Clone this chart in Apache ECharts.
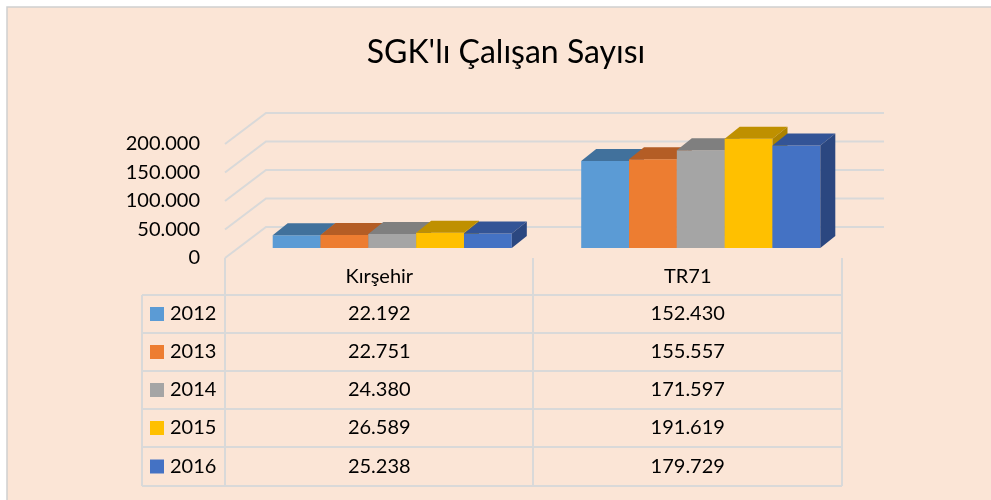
<!doctype html>
<html>
	<head>
		<meta charset="UTF-8">
		<title>SGK'lı Çalışan Sayısı</title>
		<script src="https://cdn.jsdelivr.net/npm/echarts@6/dist/echarts.min.js"></script>
		<style>
			html, body{
				margin: 0;
				padding: 0;
				background: #fff;
			}
			#main{
				width: 991px;
				height: 500px;
			}
		</style>
	</head>
	<body>
		<div id="main"></div>
		<script type="text/javascript">
			var categories = ['Kırşehir', 'TR71'];
			var years = ['2012', '2013', '2014', '2015', '2016'];
			var v2012 = [22192, 152430];
			var v2013 = [22751, 155557];
			var v2014 = [24380, 171597];
			var v2015 = [26589, 191619];
			var v2016 = [25238, 179729];
			var yTicks = [0, 50000, 100000, 150000, 200000];

			var values = [v2012, v2013, v2014, v2015, v2016];
			var frontColors = ['#5B9BD5', '#ED7D31', '#A5A5A5', '#FFC000', '#4472C4'];
			var topColors = ['#41719C', '#B45D25', '#7F7F7F', '#BF9000', '#335496'];
			var sideColors = ['#3A6690', '#A3531F', '#737373', '#AD8300', '#2B4780'];
			var font = 'Lato, "Open Sans", sans-serif';
			var lineColor = '#D9D9D9';
			var textColor = '#000';

			function fmt(n){
				return String(n).replace(/\B(?=(\d{3})+(?!\d))/g, '.');
			}

			// back wall / side wall gridlines
			function wallItem(params, api){
				var cs = params.coordSys;
				var p = api.coord([0, api.value(1)]);
				return {
					type: 'polyline',
					shape: {points: [[cs.x, p[1]], [cs.x + 41, p[1] - 31], [cs.x + 659, p[1] - 31]]},
					style: {stroke: lineColor, lineWidth: 2, fill: null}
				};
			}

			function barItem(k){
				return function(params, api){
					var ci = api.value(0);
					var band = api.size([1, 0])[0];
					var c = api.coord([ci, api.value(1)]);
					var b = api.coord([ci, 0]);
					var w = band * 0.155;
					var dx = 15, dy = 12;
					var l = c[0] - 2.5 * w + k * w + 13;
					var r = l + w;
					var t = c[1] - 10;
					var bt = b[1] - 10;
					return {
						type: 'group',
						children: [
							{type: 'rect', shape: {x: l, y: t, width: w, height: bt - t}, style: {fill: frontColors[k]}},
							{type: 'polygon', shape: {points: [[l, t], [l + dx, t - dy], [r + dx, t - dy], [r, t]]}, style: {fill: topColors[k]}},
							{type: 'polygon', shape: {points: [[r, t], [r + dx, t - dy], [r + dx, bt - dy], [r, bt]]}, style: {fill: sideColors[k]}}
						]
					};
				};
			}

			var series = [{
				type: 'custom',
				name: 'wall',
				silent: true,
				renderItem: wallItem,
				data: yTicks.map(function(v){ return [0, v]; })
			}];
			for(var k = 0; k < years.length; k++){
				series.push({
					type: 'custom',
					name: years[k],
					renderItem: barItem(k),
					data: categories.map(function(c, i){ return [i, values[k][i]]; })
				});
			}

			var chart = echarts.init(document.getElementById('main'));
			chart.setOption({
				animation: false,
				textStyle: {fontFamily: font},
				grid: {left: 225, top: 144, width: 617, height: 114},
				xAxis: {
					type: 'category',
					data: categories,
					axisLine: {show: false},
					axisTick: {show: false},
					axisLabel: {show: false}
				},
				yAxis: {
					type: 'value',
					min: 0,
					max: 200000,
					interval: 50000,
					axisLine: {show: false},
					axisTick: {show: false},
					splitLine: {show: false},
					axisLabel: {
						margin: 25,
						fontSize: 20,
						color: textColor,
						fontFamily: font,
						formatter: function(v){ return fmt(v); }
					}
				},
				series: series
			});

			// data table under the plot
			var rowY = [295, 333, 371, 409, 447, 486];
			var colX = [225, 533, 842];
			var els = [
				{type: 'rect', z: -10, shape: {x: 7, y: 7, width: 1000, height: 520}, style: {fill: '#FBE5D6', stroke: '#D0D0D0', lineWidth: 1.5}},
				{type: 'text', x: 506, y: 53, style: {text: "SGK'lı Çalışan Sayısı", fontSize: 32, fontFamily: font, fill: textColor, align: 'center', verticalAlign: 'middle'}}
			];
			colX.forEach(function(x){
				els.push({type: 'line', shape: {x1: x, y1: 258, x2: x, y2: rowY[5]}, style: {stroke: lineColor, lineWidth: 2}});
			});
			els.push({type: 'line', shape: {x1: 142, y1: rowY[0], x2: 142, y2: rowY[5]}, style: {stroke: lineColor, lineWidth: 2}});
			rowY.forEach(function(y){
				els.push({type: 'line', shape: {x1: 142, y1: y, x2: 842, y2: y}, style: {stroke: lineColor, lineWidth: 2}});
			});
			categories.forEach(function(c, i){
				var cx = chart.convertToPixel({xAxisIndex: 0}, i);
				els.push({type: 'text', x: cx, y: 277, style: {text: c, fontSize: 20, fontFamily: font, fill: textColor, align: 'center', verticalAlign: 'middle'}});
				values.forEach(function(vals, k){
					var cy = (rowY[k] + rowY[k + 1]) / 2;
					els.push({type: 'text', x: cx, y: cy, style: {text: fmt(vals[i]), fontSize: 20, fontFamily: font, fill: textColor, align: 'center', verticalAlign: 'middle'}});
				});
			});
			years.forEach(function(y, k){
				var cy = (rowY[k] + rowY[k + 1]) / 2;
				els.push({type: 'rect', shape: {x: 150, y: cy - 7, width: 14, height: 14}, style: {fill: frontColors[k]}});
				els.push({type: 'text', x: 170, y: cy, style: {text: y, fontSize: 20, fontFamily: font, fill: textColor, align: 'left', verticalAlign: 'middle'}});
			});
			chart.setOption({graphic: {elements: els}});
		</script>
	</body>
</html>
